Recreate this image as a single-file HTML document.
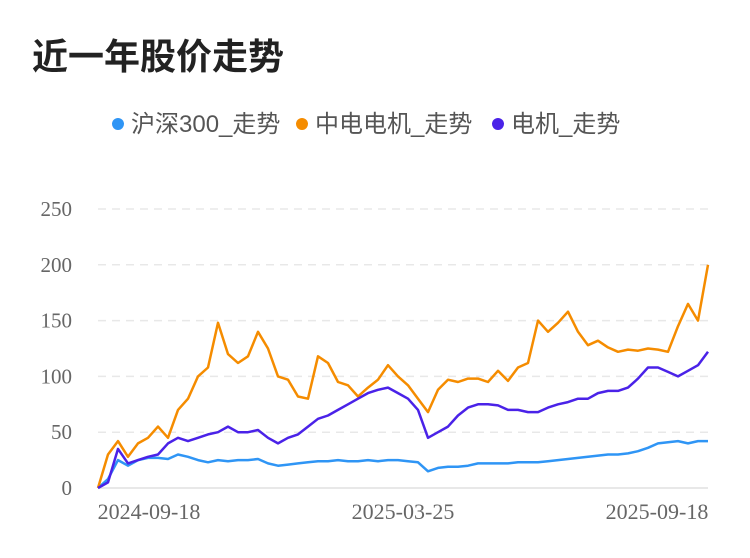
<!DOCTYPE html>
<html><head><meta charset="utf-8"><style>
body{margin:0;background:#fff;font-family:"Liberation Sans","Noto Sans CJK SC",sans-serif}
</style></head><body>
<svg id="c" width="750" height="558" style="display:block">
<text x="32" y="69" font-size="36" font-weight="bold" fill="#222" font-family="Liberation Sans, Noto Sans CJK SC, sans-serif">近一年股价走势</text>
<g id="legend"></g>
<g id="grid"></g>
<g id="series"></g>
</svg>
<script>
const xLabels=["2024-09-18","2025-03-25","2025-09-18"];
const yTicks=[0,50,100,150,200,250];
const seriesNames=["沪深300_走势","中电电机_走势","电机_走势"];
const hs300=[0,8,25,20,25,27,27,26,30,28,25,23,25,24,25,25,26,22,20,21,22,23,24,24,25,24,24,25,24,25,25,24,23,15,18,19,19,20,22,22,22,22,23,23,23,24,25,26,27,28,29,30,30,31,33,36,40,41,42,40,42,42];
const zddj=[0,30,42,28,40,45,55,45,70,80,100,108,148,120,112,118,140,125,100,97,82,80,118,112,95,92,82,90,97,110,100,92,80,68,88,97,95,98,98,95,105,96,108,112,150,140,148,158,140,128,132,126,122,124,123,125,124,122,145,165,150,200];
const dj=[0,5,35,22,25,28,30,40,45,42,45,48,50,55,50,50,52,45,40,45,48,55,62,65,70,75,80,85,88,90,85,80,70,45,50,55,65,72,75,75,74,70,70,68,68,72,75,77,80,80,85,87,87,90,98,108,108,104,100,105,110,122];
const colors=["#2f95f5","#f58c00","#4a22e8"];
const X0=98,X1=708,Y0=488,Y250=209;
const ys=v=>Y0-(v/250)*(Y0-Y250);
const xs=(i,n)=>X0+i*(X1-X0)/(n-1);
const NS="http://www.w3.org/2000/svg";
function mk(t,a,p){const e=document.createElementNS(NS,t);for(const k in a)e.setAttribute(k,a[k]);p.appendChild(e);return e;}
const grid=document.getElementById('grid');
yTicks.forEach(v=>{
 const l=mk('line',{x1:X0,x2:X1,y1:ys(v),y2:ys(v),stroke:'#e8e8e8','stroke-width':v===0?2:1.5,'stroke-dasharray':v===0?'':'8,6'},grid);
 
 
 const t=mk('text',{x:72,y:ys(v)+7,'text-anchor':'end','font-size':21,fill:'#666','font-family':'Liberation Serif, serif'},grid);
 t.textContent=v;
 
 
});
const xl=[149,403,657];
xLabels.forEach((s,i)=>{
 const t=mk('text',{x:xl[i],y:519,'text-anchor':'middle','font-size':22,fill:'#666','font-family':'Liberation Serif, serif'},grid);
 t.textContent=s;
 
 
});
const sg=document.getElementById('series');
[hs300,zddj,dj].forEach((d,k)=>{
 const p=d.map((v,i)=>(i?'L':'M')+xs(i,d.length).toFixed(1)+','+ys(v).toFixed(1)).join('');
 const e=mk('path',{d:p,fill:'none',stroke:colors[k],'stroke-width':2.5,'stroke-linejoin':'round'},sg);
 
 
});
const lg=document.getElementById('legend');
const lx=[118,302,498];
seriesNames.forEach((n,i)=>{
 const c=mk('circle',{cx:lx[i],cy:124,r:6,fill:colors[i]},lg);
 
 
 const t=mk('text',{x:lx[i]+13,y:132,'font-size':24,fill:'#555','font-family':'Liberation Sans, Noto Sans CJK SC, sans-serif'},lg);
 t.textContent=n;
 
 
});
</script>
</body></html>
